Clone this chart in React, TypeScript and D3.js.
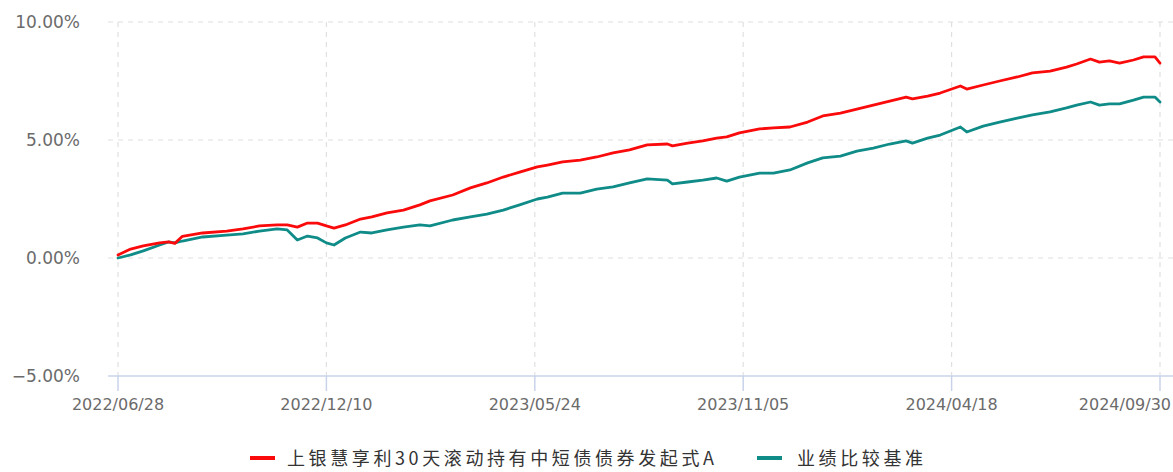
import React from 'react';
import * as d3 from 'd3';

const dates = [
  '2022-06-28', '2022-07-08', '2022-07-18', '2022-07-31', '2022-08-07', '2022-08-12', '2022-08-18',
  '2022-09-03', '2022-09-22', '2022-10-05', '2022-10-18', '2022-11-01', '2022-11-09', '2022-11-17',
  '2022-11-25', '2022-12-03', '2022-12-10', '2022-12-16', '2022-12-25', '2023-01-06', '2023-01-15',
  '2023-01-27', '2023-02-09', '2023-02-22', '2023-03-02', '2023-03-20', '2023-04-03', '2023-04-16',
  '2023-04-29', '2023-05-12', '2023-05-26', '2023-06-03', '2023-06-15', '2023-06-29', '2023-07-12',
  '2023-07-25', '2023-08-07', '2023-08-21', '2023-09-06', '2023-09-10', '2023-09-22', '2023-10-04',
  '2023-10-15', '2023-10-23', '2023-11-02', '2023-11-18', '2023-11-29', '2023-12-12', '2023-12-26',
  '2024-01-07', '2024-01-21', '2024-02-03', '2024-02-16', '2024-02-29', '2024-03-13', '2024-03-18',
  '2024-03-30', '2024-04-09', '2024-04-25', '2024-04-30', '2024-05-13', '2024-05-26', '2024-06-09',
  '2024-06-21', '2024-07-05', '2024-07-18', '2024-07-26', '2024-08-06', '2024-08-13', '2024-08-21',
  '2024-08-29', '2024-09-09', '2024-09-17', '2024-09-26', '2024-09-30',
];

const fundValues = [
  0.13, 0.38, 0.51, 0.64, 0.68, 0.62, 0.92,
  1.06, 1.14, 1.23, 1.36, 1.40, 1.40, 1.31,
  1.48, 1.48, 1.36, 1.27, 1.40, 1.65, 1.74,
  1.91, 2.03, 2.25, 2.42, 2.67, 2.97, 3.18,
  3.43, 3.64, 3.86, 3.94, 4.07, 4.15, 4.28,
  4.45, 4.58, 4.79, 4.83, 4.75, 4.87, 4.96,
  5.08, 5.13, 5.30, 5.47, 5.51, 5.55, 5.76,
  6.02, 6.14, 6.31, 6.48, 6.65, 6.82, 6.74,
  6.86, 6.99, 7.29, 7.16, 7.33, 7.50, 7.67,
  7.84, 7.92, 8.09, 8.22, 8.43, 8.30, 8.35,
  8.26, 8.39, 8.52, 8.52, 8.26,
];

const benchValues = [
  0.00, 0.13, 0.30, 0.55, 0.68, 0.64, 0.72,
  0.89, 0.97, 1.02, 1.14, 1.23, 1.19, 0.76,
  0.93, 0.85, 0.64, 0.55, 0.85, 1.10, 1.06,
  1.19, 1.31, 1.40, 1.36, 1.61, 1.74, 1.86,
  2.03, 2.25, 2.50, 2.58, 2.75, 2.75, 2.92,
  3.01, 3.18, 3.35, 3.30, 3.14, 3.22, 3.30,
  3.39, 3.26, 3.43, 3.60, 3.60, 3.73, 4.03,
  4.24, 4.32, 4.53, 4.66, 4.83, 4.96, 4.87,
  5.08, 5.21, 5.55, 5.34, 5.59, 5.76, 5.93,
  6.06, 6.19, 6.36, 6.48, 6.61, 6.48, 6.53,
  6.53, 6.69, 6.82, 6.82, 6.61,
];

const xTickDates = ['2022-06-28', '2022-12-10', '2023-05-24', '2023-11-05', '2024-04-18', '2024-09-30'];
const yTicks = [-5, 0, 5, 10];

const seriesNames = ['上银慧享利30天滚动持有中短债债券发起式A', '业绩比较基准'];
const seriesColors = ['#fa0a0a', '#0f8c88'];

const W = 1173;
const H = 472;
const gridColor = '#e0e0e0';
const axisColor = '#c8d3ea';
const textColor = '#6b6b6b';
const labelFont = '"DejaVu Sans", sans-serif';
const legendFont = '"Noto Sans CJK SC", sans-serif';

export default function App() {
  const parse = d3.utcParse('%Y-%m-%d');
  const x = d3.scaleUtc()
    .domain([parse('2022-06-28')!, parse('2024-09-30')!])
    .range([118, 1160]);
  const y = d3.scaleLinear().domain([-5, 10]).range([376, 22]);

  const series = [fundValues, benchValues];
  const line = d3.line<number>()
    .x((_, i) => x(parse(dates[i])!))
    .y(d => y(d));

  const legendY = 457;

  return (
    <div style={{ position: 'absolute', left: 0, top: 0 }}>
      <svg width={W} height={H} style={{ display: 'block' }}>
        {/* horizontal grid */}
        {yTicks.filter(t => t !== -5).map(t => (
          <line key={t} x1={108} x2={W} y1={y(t)} y2={y(t)}
            stroke={gridColor} strokeWidth={1.2} strokeDasharray="5,5" />
        ))}
        {/* vertical grid */}
        {xTickDates.map(d => (
          <line key={d} x1={x(parse(d)!)} x2={x(parse(d)!)} y1={22} y2={376}
            stroke={gridColor} strokeWidth={1.2} strokeDasharray="5,5" />
        ))}
        {/* x axis */}
        <line x1={108} x2={W} y1={376} y2={376} stroke={axisColor} strokeWidth={1.5} />
        {xTickDates.map(d => (
          <line key={'t' + d} x1={x(parse(d)!)} x2={x(parse(d)!)} y1={376} y2={391}
            stroke={axisColor} strokeWidth={1.5} />
        ))}
        {xTickDates.map((d, i) => {
          const last = i === xTickDates.length - 1;
          return (
            <text key={'l' + d} x={last ? 1171 : x(parse(d)!)} y={410}
              textAnchor={last ? 'end' : 'middle'} fontSize={16} fill={textColor}
              style={{ fontFamily: labelFont }}>
              {d.replace(/-/g, '/')}
            </text>
          );
        })}
        {/* y labels */}
        {yTicks.map(t => (
          <text key={'y' + t} x={80} y={y(t) + 6} textAnchor="end" fontSize={17} fill={textColor}
            style={{ fontFamily: labelFont }}>
            {d3.format('.2f')(t).replace('-', '−') + '%'}
          </text>
        ))}
        {/* lines */}
        {series.slice().reverse().map((s, ri) => {
          const i = series.length - 1 - ri;
          return (
            <path key={i} d={line(s) || ''} fill="none" stroke={seriesColors[i]}
              strokeWidth={2.8} strokeLinejoin="round" strokeLinecap="round" />
          );
        })}
        {/* legend */}
        <line x1={250} x2={275} y1={legendY + 1} y2={legendY + 1} stroke={seriesColors[0]} strokeWidth={4} />
        <text x={287} y={legendY} fontSize={18} fill="#333" letterSpacing={3.6} dominantBaseline="central"
          style={{ fontFamily: legendFont }}>{seriesNames[0]}</text>
        <line x1={757} x2={782} y1={legendY + 1} y2={legendY + 1} stroke={seriesColors[1]} strokeWidth={4} />
        <text x={797} y={legendY} fontSize={18} fill="#333" letterSpacing={3.6} dominantBaseline="central"
          style={{ fontFamily: legendFont }}>{seriesNames[1]}</text>
      </svg>
    </div>
  );
}
